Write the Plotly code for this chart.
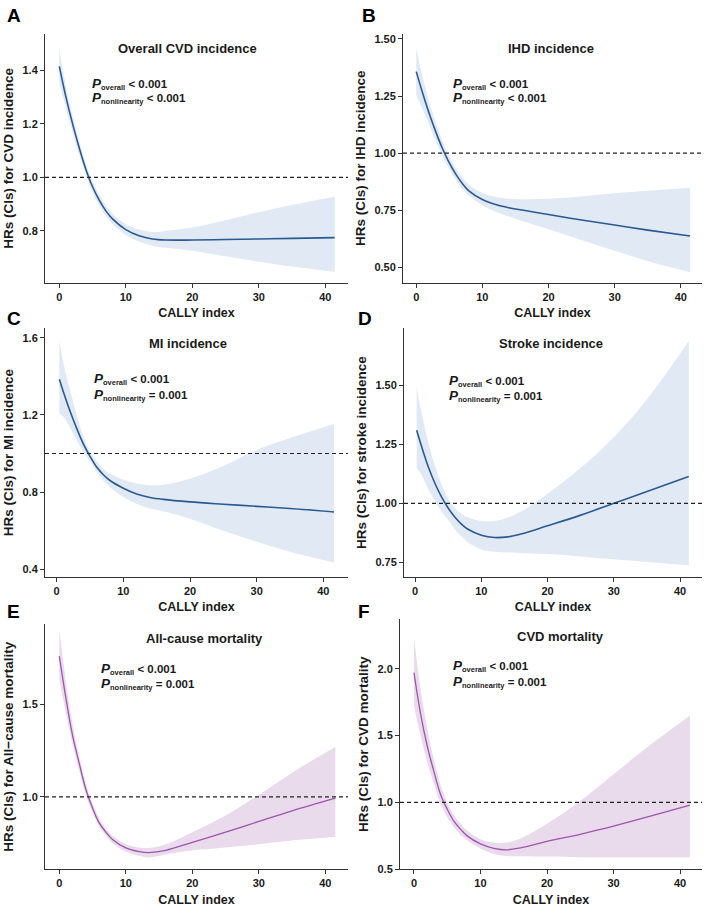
import plotly.graph_objects as go

# ---------------- data ----------------
xA = [0, 1, 2, 3, 4, 5, 6, 7, 8, 10, 12, 14, 16, 20, 25, 30, 35, 41.4]
hrA = [1.415, 1.30, 1.20, 1.11, 1.03, 0.965, 0.915, 0.875, 0.845, 0.805, 0.782, 0.770, 0.766, 0.766, 0.768, 0.770, 0.772, 0.775]
hiA = [1.48, 1.34, 1.23, 1.135, 1.05, 0.985, 0.935, 0.895, 0.865, 0.825, 0.805, 0.796, 0.80, 0.813, 0.84, 0.87, 0.897, 0.928]
loA = [1.35, 1.26, 1.17, 1.085, 1.01, 0.945, 0.895, 0.855, 0.825, 0.785, 0.76, 0.745, 0.737, 0.726, 0.705, 0.685, 0.667, 0.647]

xB = [0, 1, 2, 3, 4, 5, 6, 7, 8, 10, 12, 14, 16, 20, 25, 30, 35, 41.4]
hrB = [1.357, 1.26, 1.17, 1.09, 1.018, 0.957, 0.907, 0.866, 0.834, 0.797, 0.775, 0.761, 0.751, 0.731, 0.707, 0.685, 0.663, 0.637]
hiB = [1.46, 1.33, 1.22, 1.13, 1.05, 0.985, 0.933, 0.892, 0.862, 0.826, 0.808, 0.80, 0.798, 0.80, 0.81, 0.824, 0.835, 0.848]
loB = [1.255, 1.19, 1.12, 1.05, 0.985, 0.93, 0.882, 0.843, 0.812, 0.772, 0.743, 0.722, 0.703, 0.667, 0.62, 0.572, 0.528, 0.478]

xC = [0.4, 1, 2, 3, 4, 5, 6, 7, 8, 10, 12, 14, 16, 20, 25, 30, 35, 41.6]
hrC = [1.385, 1.32, 1.22, 1.13, 1.05, 0.985, 0.93, 0.89, 0.86, 0.82, 0.79, 0.772, 0.762, 0.749, 0.737, 0.726, 0.715, 0.697]
hiC = [1.585, 1.47, 1.33, 1.20, 1.09, 1.01, 0.96, 0.92, 0.895, 0.865, 0.845, 0.835, 0.838, 0.869, 0.935, 1.018, 1.08, 1.153]
loC = [1.208, 1.19, 1.135, 1.07, 1.01, 0.96, 0.905, 0.86, 0.825, 0.775, 0.74, 0.715, 0.70, 0.662, 0.60, 0.542, 0.49, 0.434]

xD = [0.25, 1, 2, 3, 4, 5, 6, 7, 8, 10, 12, 14, 16, 20, 25, 30, 35, 41.3]
hrD = [1.309, 1.24, 1.155, 1.085, 1.027, 0.98, 0.942, 0.912, 0.89, 0.865, 0.855, 0.858, 0.87, 0.905, 0.95, 1.0, 1.05, 1.113]
hiD = [1.489, 1.38, 1.26, 1.16, 1.08, 1.02, 0.98, 0.955, 0.94, 0.925, 0.925, 0.94, 0.965, 1.04, 1.15, 1.28, 1.44, 1.687]
loD = [1.15, 1.12, 1.06, 1.01, 0.965, 0.93, 0.89, 0.86, 0.835, 0.805, 0.795, 0.792, 0.79, 0.785, 0.775, 0.763, 0.752, 0.738]

xE = [0, 1, 2, 3, 4, 5, 6, 7, 8, 10, 12, 13.5, 16, 20, 25, 30, 35, 41.5]
hrE = [1.758, 1.53, 1.33, 1.18, 1.04, 0.94, 0.86, 0.81, 0.77, 0.725, 0.705, 0.70, 0.712, 0.755, 0.81, 0.868, 0.925, 0.993]
hiE = [1.90, 1.62, 1.39, 1.22, 1.07, 0.965, 0.885, 0.83, 0.79, 0.745, 0.728, 0.725, 0.745, 0.81, 0.90, 1.01, 1.13, 1.268]
loE = [1.633, 1.45, 1.28, 1.14, 1.01, 0.915, 0.84, 0.79, 0.75, 0.705, 0.683, 0.674, 0.69, 0.712, 0.728, 0.745, 0.765, 0.785]

xF = [0, 1, 2, 3, 4, 5, 6, 7, 8, 10, 12, 14, 16, 20, 25, 30, 35, 41.5]
hrF = [1.97, 1.66, 1.42, 1.23, 1.06, 0.95, 0.86, 0.80, 0.75, 0.69, 0.657, 0.646, 0.66, 0.708, 0.762, 0.822, 0.89, 0.98]
hiF = [2.23, 1.85, 1.55, 1.32, 1.13, 1.0, 0.905, 0.84, 0.79, 0.725, 0.70, 0.70, 0.73, 0.84, 1.01, 1.21, 1.41, 1.65]
loF = [1.72, 1.50, 1.30, 1.14, 0.99, 0.89, 0.815, 0.76, 0.715, 0.655, 0.615, 0.60, 0.597, 0.595, 0.59, 0.59, 0.59, 0.59]

letters = ["A", "B", "C", "D", "E", "F"]
titles = ["Overall CVD incidence", "IHD incidence", "MI incidence", "Stroke incidence",
          "All-cause mortality", "CVD mortality"]
ytitles = ["HRs (CIs) for CVD incidence", "HRs (CIs) for IHD incidence", "HRs (CIs) for MI incidence",
           "HRs (CIs) for stroke incidence", "HRs (CIs) for All\u2212cause mortality", "HRs (CIs) for CVD mortality"]
p_overall = ["< 0.001"] * 6
p_nonlin = ["< 0.001", "< 0.001", "= 0.001", "= 0.001", "= 0.001", "= 0.001"]
xtick_vals = [0, 10, 20, 30, 40]
ytick_vals = [[0.8, 1.0, 1.2, 1.4], [0.5, 0.75, 1.0, 1.25, 1.5], [0.4, 0.8, 1.2, 1.6],
              [0.75, 1.0, 1.25, 1.5], [1.0, 1.5], [0.5, 1.0, 1.5, 2.0]]
ytick_text = [["0.8", "1.0", "1.2", "1.4"], ["0.50", "0.75", "1.00", "1.25", "1.50"],
              ["0.4", "0.8", "1.2", "1.6"], ["0.75", "1.00", "1.25", "1.50"],
              ["1.0", "1.5"], ["0.5", "1.0", "1.5", "2.0"]]

series = [(xA, hrA, loA, hiA), (xB, hrB, loB, hiB), (xC, hrC, loC, hiC),
          (xD, hrD, loD, hiD), (xE, hrE, loE, hiE), (xF, hrF, loF, hiF)]

# ---------------- layout geometry ----------------
W, H = 708, 914
FONT = "Arial, Liberation Sans, sans-serif"
TXT = "#1a1a1a"
xdom_px = [(45, 348), (403, 702), (45, 348), (404, 702), (45, 348), (400, 702)]
ydom_px = [(33, 284), (33, 284), (330, 580), (330, 580), (628, 875), (623, 875)]
xranges = [[-2.15, 43.4], [-2.0, 43.2], [-1.75, 43.7], [-1.66, 43.3], [-2.15, 43.4], [-2.1, 43.3]]
yranges = [[0.606, 1.537], [0.432, 1.523], [0.362, 1.648], [0.69, 1.74], [0.61, 1.93], [0.5, 2.37]]
title_pos = [(0.469, 0.94), (0.494, 0.94), (0.473, 0.94), (0.492, 0.94), (0.528, 0.94), (0.532, 0.93)]
p_pos = [(0.149, 0.797, 0.741), (0.16, 0.797, 0.741), (0.154, 0.798, 0.733),
         (0.144, 0.789, 0.729), (0.179, 0.816, 0.756), (0.168, 0.812, 0.749)]
letter_pos = [(5, 15), (360, 15), (5, 320), (356, 320), (5, 615), (356, 615)]

blue_line, blue_fill = "#2A5A92", "rgba(214,225,240,0.75)"
purp_line, purp_fill = "#9E55AC", "rgba(226,206,230,0.75)"


def p_text(sub, value):
    return ("<b><i><span style='font-size:13.5px'>P</span></i></b>"
            "<sub><b><span style='font-size:7.5px'>" + sub + "</span></b></sub>"
            "<b> " + value.replace("<", "&lt;") + "</b>")


fig = go.Figure()
layout = dict(width=W, height=H, margin=dict(l=0, r=0, t=0, b=0),
              paper_bgcolor="white", plot_bgcolor="white", showlegend=False,
              font=dict(family=FONT, color=TXT))
annotations = []
shapes = []

for i in range(6):
    xs, hr, lo, hi = series[i]
    ax = "" if i == 0 else str(i + 1)
    xa, ya = "x" + ax, "y" + ax
    lc, fc = (blue_line, blue_fill) if i < 4 else (purp_line, purp_fill)
    fig.add_trace(go.Scatter(x=xs, y=lo, mode="lines", line=dict(width=0, shape="spline", color=fc),
                             xaxis=xa, yaxis=ya, hoverinfo="skip"))
    fig.add_trace(go.Scatter(x=xs, y=hi, mode="lines", line=dict(width=0, shape="spline", color=fc),
                             fill="tonexty", fillcolor=fc, xaxis=xa, yaxis=ya, hoverinfo="skip"))
    fig.add_trace(go.Scatter(x=xs, y=hr, mode="lines",
                             line=dict(width=1.6 if i < 4 else 1.3, shape="spline", color=lc),
                             xaxis=xa, yaxis=ya))
    x0, x1 = xdom_px[i]
    yt, yb = ydom_px[i]
    layout["xaxis" + ax] = dict(
        domain=[x0 / W, x1 / W], range=xranges[i], anchor=ya,
        tickvals=xtick_vals, ticks="outside", ticklen=4, tickcolor="#333", tickwidth=1,
        showline=True, linecolor="#333", linewidth=1, showgrid=False, zeroline=False,
        tickfont=dict(size=11, family=FONT, color=TXT, weight="bold"),
        title=dict(text="<b>CALLY index</b>", font=dict(size=12.5, family=FONT, color=TXT), standoff=6),
    )
    layout["yaxis" + ax] = dict(
        domain=[(H - yb) / H, (H - yt) / H], range=yranges[i], anchor=xa,
        tickvals=ytick_vals[i], ticktext=ytick_text[i], ticks="outside", ticklen=4,
        tickcolor="#333", tickwidth=1,
        showline=True, linecolor="#333", linewidth=1, showgrid=False, zeroline=False,
        tickfont=dict(size=11, family=FONT, color=TXT, weight="bold"),
        title=dict(text="<b>" + ytitles[i] + "</b>", font=dict(size=13.5, family=FONT, color=TXT), standoff=5),
    )
    shapes.append(dict(type="line", xref=xa + " domain", yref=ya, x0=0, x1=1, y0=1, y1=1,
                       line=dict(color="#222", width=1.2, dash="4px,3px")))
    tx, ty = title_pos[i]
    annotations.append(dict(xref=xa + " domain", yref=ya + " domain", x=tx, y=ty, text="<b>" + titles[i] + "</b>",
                            showarrow=False, font=dict(size=13, family=FONT, color=TXT),
                            xanchor="center", yanchor="middle"))
    px_, py1, py2 = p_pos[i]
    annotations.append(dict(xref=xa + " domain", yref=ya + " domain", x=px_, y=py1,
                            text=p_text("overall", p_overall[i]),
                            showarrow=False, font=dict(size=11.5, family=FONT, color=TXT),
                            xanchor="left", yanchor="middle"))
    annotations.append(dict(xref=xa + " domain", yref=ya + " domain", x=px_, y=py2,
                            text=p_text("nonlinearity", p_nonlin[i]),
                            showarrow=False, font=dict(size=11.5, family=FONT, color=TXT),
                            xanchor="left", yanchor="middle"))
    lx, ly = letter_pos[i]
    annotations.append(dict(xref="paper", yref="paper", x=lx / W, y=(H - ly) / H, text="<b>" + letters[i] + "</b>",
                            showarrow=False, font=dict(size=19, family=FONT, color="black"),
                            xanchor="left", yanchor="middle"))

layout["annotations"] = annotations
layout["shapes"] = shapes
fig.update_layout(**layout)
fig.write_html("out.html")
